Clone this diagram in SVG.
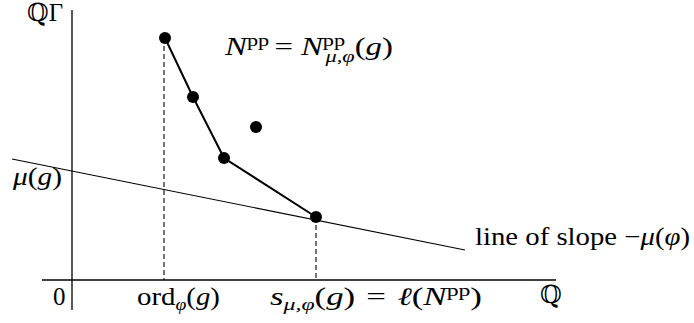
<svg xmlns="http://www.w3.org/2000/svg" width="694" height="323" viewBox="0 0 694 323">
<style>
text{font-family:'Liberation Serif','DejaVu Serif',serif;font-size:25px;fill:#000}
.it{font-style:italic}
.sm{font-size:17px}
.ax{stroke:#000;stroke-width:1.3;fill:none}
.dash{stroke:#000;stroke-width:1.1;stroke-dasharray:5 3;fill:none}
.dot{fill:#000}
</style>
<rect width="694" height="323" fill="#fff"/>
<g id="axes">
<line class="ax" x1="72" y1="10" x2="72" y2="310"/>
<line class="ax" x1="42" y1="280" x2="556" y2="280"/>
</g>
<g id="guides">
<line class="dash" x1="164" y1="38" x2="164" y2="280"/>
<line class="dash" x1="316" y1="217" x2="316" y2="280"/>
<line stroke="#000" stroke-width="1.1" x1="12" y1="159" x2="465" y2="250"/>
</g>
<g id="connectors">
<polyline points="165,38 193,97 224,158 316,217" fill="none" stroke="#000" stroke-width="2"/>
</g>
<g id="p1"><circle class="dot" cx="165" cy="38" r="6"/></g>
<g id="p2"><circle class="dot" cx="193" cy="97" r="6"/></g>
<g id="p3"><circle class="dot" cx="224" cy="158" r="6"/></g>
<g id="p4"><circle class="dot" cx="256" cy="127" r="6"/></g>
<g id="p5"><circle class="dot" cx="316" cy="217" r="6"/></g>
<g id="labels">
<text x="27" y="21" textLength="36" lengthAdjust="spacingAndGlyphs">ℚΓ</text>
<text x="225" y="55" textLength="168" lengthAdjust="spacingAndGlyphs"><tspan class="it">N</tspan><tspan class="sm" dy="-9">pp</tspan><tspan dy="9" dx="4">=</tspan><tspan class="it" dx="6">N</tspan><tspan class="sm" dy="-9">pp</tspan><tspan class="sm it" dx="-15" dy="16">μ,φ</tspan><tspan dy="-7">(</tspan><tspan class="it">g</tspan><tspan>)</tspan></text>
<text x="13" y="185" textLength="49" lengthAdjust="spacingAndGlyphs"><tspan class="it">μ</tspan>(<tspan class="it">g</tspan>)</text>
<text x="475" y="245" textLength="215" lengthAdjust="spacingAndGlyphs">line of slope −<tspan class="it">μ</tspan>(<tspan class="it">φ</tspan>)</text>
<text x="53" y="305">0</text>
<text x="137" y="305" textLength="83" lengthAdjust="spacingAndGlyphs">ord<tspan class="sm it" dy="5">φ</tspan><tspan dy="-5">(</tspan><tspan class="it">g</tspan>)</text>
<text x="270" y="305" textLength="212" lengthAdjust="spacingAndGlyphs"><tspan class="it">s</tspan><tspan class="sm it" dy="5">μ,φ</tspan><tspan dy="-5">(</tspan><tspan class="it">g</tspan>)<tspan dx="8">=</tspan><tspan class="it" dx="8">ℓ</tspan>(<tspan class="it">N</tspan><tspan class="sm" dy="-9">pp</tspan><tspan dy="9">)</tspan></text>
<text x="540" y="303">ℚ</text>
</g>
</svg>
